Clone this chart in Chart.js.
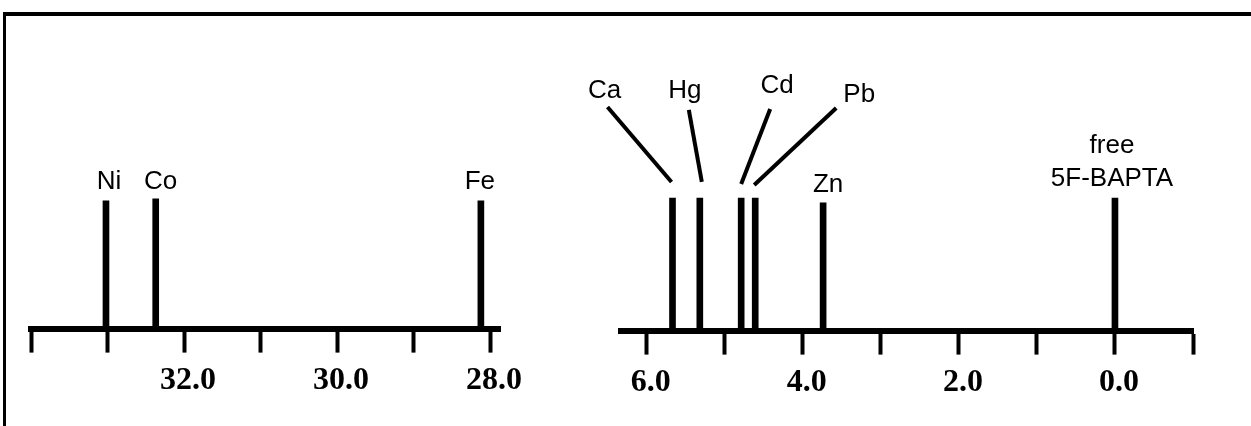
<!DOCTYPE html>
<html><head><meta charset="utf-8">
<script src="https://cdn.jsdelivr.net/npm/chart.js@4"></script>
<style>
html,body{margin:0;padding:0;background:#fff;}
#wrap{position:relative;width:1251px;height:426px;overflow:hidden;background:#fff;}
#frame{position:absolute;left:3px;top:12px;right:0;bottom:0;border-top:4px solid #000;border-left:3px solid #000;pointer-events:none;}
#c1{position:absolute;left:0;top:0;}
#c2{position:absolute;left:560px;top:0;}
</style></head><body>
<div id="wrap">
<canvas id="c1" width="560" height="426"></canvas>
<canvas id="c2" width="691" height="426"></canvas>
<div id="frame"></div>
</div>
<script>
// ---- data (chemical shift, ppm) ----
const highShifts = [33.02, 32.37, 28.12];
const highMetals = ['Ni', 'Co', 'Fe'];
const highIntensity = [0.985, 1.0, 0.985];

const lowShifts = [5.67, 5.32, 4.79, 4.61, 3.74, 0.0];
const lowMetals = ['Ca', 'Hg', 'Cd', 'Pb', 'Zn', 'free|5F-BAPTA'];
const lowIntensity = [1.015, 1.015, 1.015, 1.015, 0.977, 1.015];

const highTicks = [34, 33, 32, 31, 30, 29, 28];
const highTickLabels = ['', '', '32.0', '', '30.0', '', '28.0'];
const lowTicks = [6, 5, 4, 3, 2, 1, 0, -1];
const lowTickLabels = ['6.0', '', '4.0', '', '2.0', '', '0.0', ''];

// ---- label placement (pixel offsets from each peak top) ----
const highCallouts = [
  {dx: 3, dy: -12}, {dx: 5, dy: -10}, {dx: -1, dy: -12}
];
const lowCallouts = [
  {dx: -68, dy: -100, line: [-1, -16, -65, -91]},
  {dx: -15, dy: -100, line: [2, -16, -11, -88]},
  {dx: 36, dy: -105, line: [0, -14, 29, -89]},
  {dx: 104, dy: -96, line: [-1, -13, 81, -90]},
  {dx: 5, dy: -11},
  {dx: -3, dy: -12, lineGap: 33}
];

const calloutPlugin = {
  id: 'callouts',
  afterDatasetsDraw(chart, args, opts) {
    const ctx = chart.ctx;
    const xs = chart.scales.x, ys = chart.scales.y;
    const ds = chart.data.datasets[0].data;
    ctx.save();
    ctx.fillStyle = '#000';
    ctx.strokeStyle = '#000';
    ctx.font = '26px "Liberation Sans", Arial, sans-serif';
    ctx.textAlign = 'center';
    ctx.textBaseline = 'alphabetic';
    opts.names.forEach((name, i) => {
      const c = opts.items[i];
      const px = xs.getPixelForValue(ds[i].x);
      const py = ys.getPixelForValue(ds[i].y);
      const lines = name.split('|');
      const gap = c.lineGap || 30;
      lines.forEach((t, k) => {
        ctx.fillText(t, px + c.dx, py + c.dy - (lines.length - 1 - k) * gap);
      });
      if (c.line) {
        ctx.lineWidth = 4;
        ctx.lineCap = 'butt';
        ctx.beginPath();
        ctx.moveTo(px + c.line[0], py + c.line[1]);
        ctx.lineTo(px + c.line[2], py + c.line[3]);
        ctx.stroke();
      }
    });
    ctx.restore();
  }
};

function makeChart(id, shifts, metals, intens, tickVals, tickLabels, xmin, xmax, pad, callouts) {
  return new Chart(document.getElementById(id), {
    type: 'bar',
    data: {
      datasets: [{
        data: shifts.map((s, i) => ({x: s, y: intens[i]})),
        backgroundColor: '#000',
        borderWidth: 0,
        barThickness: 6
      }]
    },
    options: {
      responsive: false,
      animation: false,
      events: [],
      layout: {padding: pad},
      plugins: {
        legend: {display: false},
        tooltip: {enabled: false},
        callouts: {names: metals, items: callouts}
      },
      scales: {
        x: {
          type: 'linear',
          reverse: true,
          min: xmin, max: xmax,
          offset: false,
          afterBuildTicks: (s) => { s.ticks = tickVals.map(v => ({value: v})); },
          grid: {display: true, drawOnChartArea: false, offset: false, tickLength: 24, tickWidth: 4, tickColor: '#000'},
          border: {display: true, width: 6, color: '#000'},
          ticks: {
            autoSkip: false,
            maxRotation: 0,
            padding: 9,
            labelOffset: 4,
            color: '#000',
            font: {family: '"Liberation Serif", "Times New Roman", serif', size: 32, weight: 'bold'},
            callback: (v) => { const k = tickVals.indexOf(v); return k >= 0 ? tickLabels[k] : ''; }
          }
        },
        y: {display: false, min: 0, max: 2.4}
      }
    },
    plugins: [calloutPlugin]
  });
}

makeChart('c1', highShifts, highMetals, highIntensity, highTicks, highTickLabels,
  27.87, 34, {left: 31, right: 60, top: 17, bottom: 17}, highCallouts);
makeChart('c2', lowShifts, lowMetals, lowIntensity, lowTicks, lowTickLabels,
  -1, 6.33, {left: 61, right: 58, top: 17, bottom: 15}, lowCallouts);
</script>
</body></html>
